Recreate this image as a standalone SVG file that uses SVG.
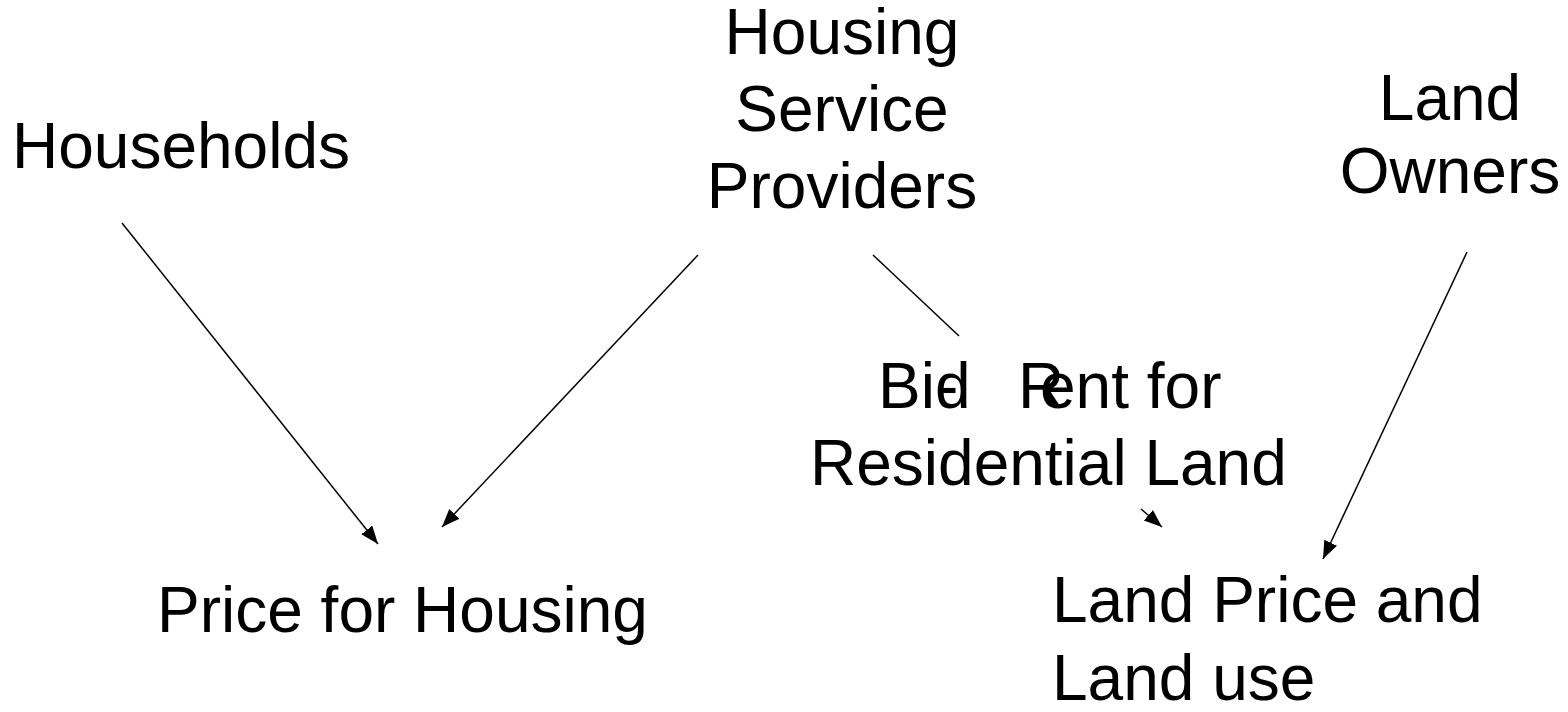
<svg xmlns="http://www.w3.org/2000/svg" width="1568" height="712" viewBox="0 0 1568 712">
<style>
.t{font-family:"Liberation Sans",Arial,sans-serif;font-size:64px;fill:#000}
.c{stroke:#000;stroke-width:1.5;fill:none}
</style>
<defs>
<marker id="ah" markerUnits="userSpaceOnUse" markerWidth="20" markerHeight="16" refX="18" refY="7" orient="auto">
<path d="M0,0 L18,7 L0,14 z" fill="#000"/>
</marker>
</defs>
<rect width="1568" height="712" fill="#fff"/>
<g id="households"><text class="t" x="12" y="168">Households</text></g>
<g id="hsp"><text class="t" text-anchor="middle"><tspan x="842" y="54">Housing</tspan><tspan x="842" y="131">Service</tspan><tspan x="842" y="208">Providers</tspan></text></g>
<g id="landowners"><text class="t" text-anchor="middle"><tspan x="1450" y="120">Land</tspan><tspan x="1450" y="193">Owners</tspan></text></g>
<g id="bidrent"><text class="t"><tspan x="878" y="408">Bid</tspan><tspan x="937" y="408">-</tspan><tspan x="1018" y="408">R</tspan><tspan x="1040" y="408">ent for</tspan><tspan x="810" y="485">Residential Land</tspan></text></g>
<g id="price"><text class="t" x="157" y="632">Price for Housing</text></g>
<g id="landprice"><text class="t"><tspan x="1052" y="622">Land Price and</tspan><tspan x="1052" y="700">Land use</tspan></text></g>
<g id="connectors">
<line class="c" x1="122" y1="223" x2="378" y2="544" marker-end="url(#ah)"/>
<line class="c" x1="698" y1="255" x2="442" y2="527" marker-end="url(#ah)"/>
<line class="c" x1="873" y1="255" x2="959" y2="336"/>
<line class="c" x1="1141" y1="509" x2="1162" y2="527" marker-end="url(#ah)"/>
<line class="c" x1="1467" y1="252" x2="1323" y2="559" marker-end="url(#ah)"/>
</g>
</svg>
